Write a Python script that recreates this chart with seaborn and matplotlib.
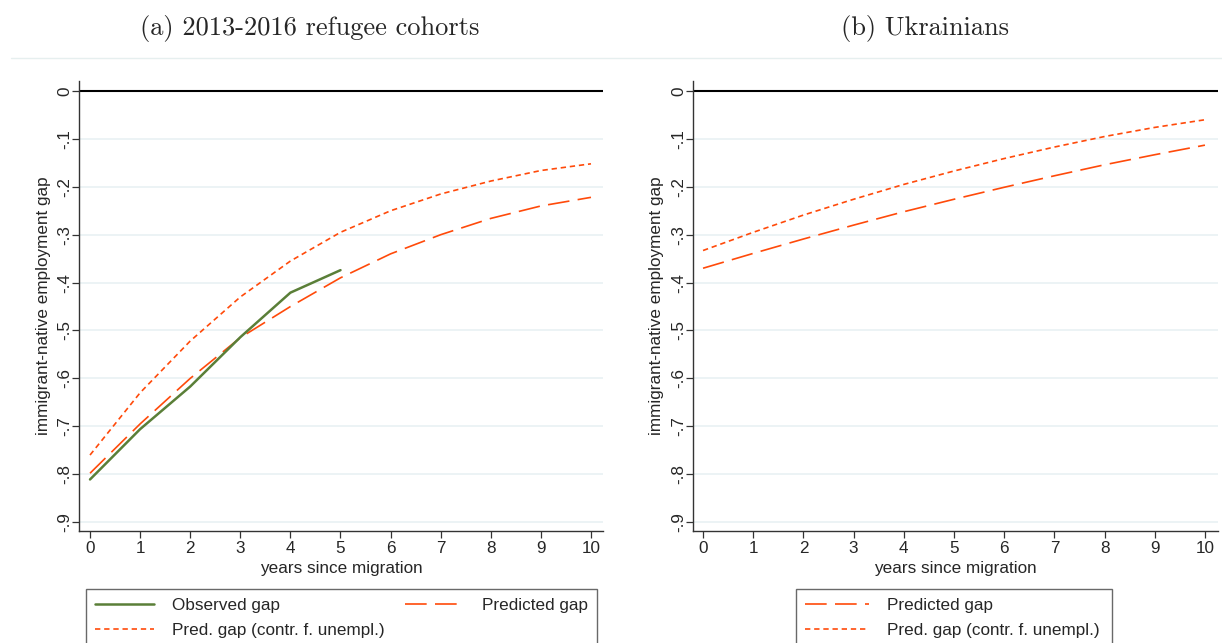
import numpy as np
import pandas as pd
import matplotlib
matplotlib.use("Agg")
import matplotlib.pyplot as plt
from matplotlib.lines import Line2D
import seaborn as sns

# ---- data ----
years = list(range(0, 11))
obs_years = list(range(0, 6))
a_observed = [-0.811, -0.706, -0.617, -0.514, -0.421, -0.374]
a_predicted = [-0.798, -0.695, -0.600, -0.515, -0.450, -0.390, -0.340, -0.300, -0.266, -0.240, -0.222]
a_pred_contr = [-0.760, -0.630, -0.522, -0.430, -0.355, -0.295, -0.250, -0.215, -0.188, -0.166, -0.152]
b_predicted = [-0.370, -0.339, -0.309, -0.280, -0.252, -0.226, -0.201, -0.177, -0.154, -0.133, -0.113]
b_pred_contr = [-0.333, -0.295, -0.259, -0.226, -0.195, -0.167, -0.141, -0.117, -0.095, -0.076, -0.060]
ytick_vals = [0, -0.1, -0.2, -0.3, -0.4, -0.5, -0.6, -0.7, -0.8, -0.9]
ytick_labels = ["0", "-.1", "-.2", "-.3", "-.4", "-.5", "-.6", "-.7", "-.8", "-.9"]
xtick_vals = list(range(0, 11))
titles = ["(a) 2013-2016 refugee cohorts", "(b) Ukrainians"]
ylabel = "immigrant-native employment gap"
xlabel = "years since migration"
lbl_obs = "Observed gap"
lbl_pred = "Predicted gap"
lbl_contr = "Pred. gap (contr. f. unempl.)"

sns.set_style("white")
plt.rcParams["font.family"] = ["Liberation Sans", "DejaVu Sans"]

W, H = 1222, 643
fig = plt.figure(figsize=(W / 100, H / 100), dpi=100)

GREEN = "#5A7F38"
ORANGE = "#FF4A0A"
GRID = "#EAF2F4"
LW = 1.2
FS = 12.3
LONGDASH = (0, (13.0, 5.0))
SHORTDASH = (0, (3.2, 2.3))

def px_ax(x0, x1, y0, y1):
    return fig.add_axes([x0 / W, 1 - y1 / H, (x1 - x0) / W, (y1 - y0) / H])

ax1 = px_ax(79, 603, 81, 531)
ax2 = px_ax(693, 1218, 81, 531)

def style(ax, xlim):
    ax.set_xlim(*xlim)
    ax.set_ylim(-0.9186, 0.0209)
    for v in ytick_vals[1:]:
        ax.axhline(v, color=GRID, lw=1.3, zorder=0)
    ax.axhline(0, color="black", lw=1.5, zorder=1)
    ax.set_yticks(ytick_vals, ytick_labels)
    ax.set_xticks(xtick_vals, [str(v) for v in xtick_vals])
    for s in ["top", "right"]:
        ax.spines[s].set_visible(False)
    for s in ["left", "bottom"]:
        ax.spines[s].set_color("#333333")
        ax.spines[s].set_linewidth(1.0)
    ax.tick_params(axis="both", direction="out", length=5, width=0.9, color="#333333",
                   labelsize=FS, left=True, bottom=True)
    ax.tick_params(axis="y", labelrotation=90, pad=0)
    for t in ax.get_yticklabels():
        t.set_va("center")
    ax.tick_params(axis="x", pad=2)

style(ax1, (-0.22, 10.24))
style(ax2, (-0.2, 10.26))

# panel a
df_obs = pd.DataFrame({"x": obs_years, "y": a_observed})
df_a = pd.DataFrame({"x": years, "pred": a_predicted, "contr": a_pred_contr})
sns.lineplot(data=df_a, x="x", y="contr", ax=ax1, color=ORANGE, lw=LW, linestyle=SHORTDASH, zorder=3)
sns.lineplot(data=df_a, x="x", y="pred", ax=ax1, color=ORANGE, lw=LW, linestyle=LONGDASH, zorder=3)
sns.lineplot(data=df_obs, x="x", y="y", ax=ax1, color=GREEN, lw=1.8, linestyle="-", zorder=4)

# panel b
df_b = pd.DataFrame({"x": years, "pred": b_predicted, "contr": b_pred_contr})
sns.lineplot(data=df_b, x="x", y="contr", ax=ax2, color=ORANGE, lw=LW, linestyle=SHORTDASH, zorder=3)
sns.lineplot(data=df_b, x="x", y="pred", ax=ax2, color=ORANGE, lw=LW, linestyle=LONGDASH, zorder=3)

for ax in (ax1, ax2):
    ax.set_ylabel(ylabel, fontsize=FS)
    ax.yaxis.set_label_coords((43 - 79) / 524, 0.5)
    ax.yaxis.label.set_va("center")
    ax.set_xlabel(xlabel, fontsize=FS)
    ax.xaxis.set_label_coords(0.5, -(569 - 531) / 450)
    ax.xaxis.label.set_va("center")
    if ax.get_legend():
        ax.get_legend().remove()

# titles and separator
fig.text(310 / W, 1 - 28 / H, titles[0], family="cmr10", fontsize=19, ha="center", va="center")
fig.text(925 / W, 1 - 28 / H, titles[1], family="cmr10", fontsize=19, ha="center", va="center")
fig.add_artist(Line2D([11 / W, 1], [1 - 58 / H, 1 - 58 / H], color="#E6EFEF", lw=1.0))

# legends
h_obs = Line2D([], [], color=GREEN, lw=1.8)
h_pred = Line2D([], [], color=ORANGE, lw=LW, linestyle=LONGDASH)
h_contr = Line2D([], [], color=ORANGE, lw=LW, linestyle=SHORTDASH)

leg_kw = dict(loc="upper left", mode="expand", fontsize=FS, frameon=True, fancybox=False,
              handlelength=3.5, handletextpad=1.05, borderaxespad=0, borderpad=0.5,
              labelspacing=0.6)
l1 = fig.legend([h_obs, h_contr, h_pred], [lbl_obs, lbl_contr, lbl_pred], ncol=2,
                bbox_to_anchor=(86 / W, 1 - 589 / H - 0.1, (597 - 86) / W, 0.1), **leg_kw)
leg_kw2 = dict(leg_kw, handlelength=3.8)
l2 = fig.legend([h_pred, h_contr], [lbl_pred, lbl_contr], ncol=1,
                bbox_to_anchor=(796 / W, 1 - 589 / H - 0.1, (1112 - 796) / W, 0.1), **leg_kw2)
for l in (l1, l2):
    fr = l.get_frame()
    fr.set_edgecolor("#444444")
    fr.set_linewidth(1.0)

fig.savefig("out.png", dpi=100)
